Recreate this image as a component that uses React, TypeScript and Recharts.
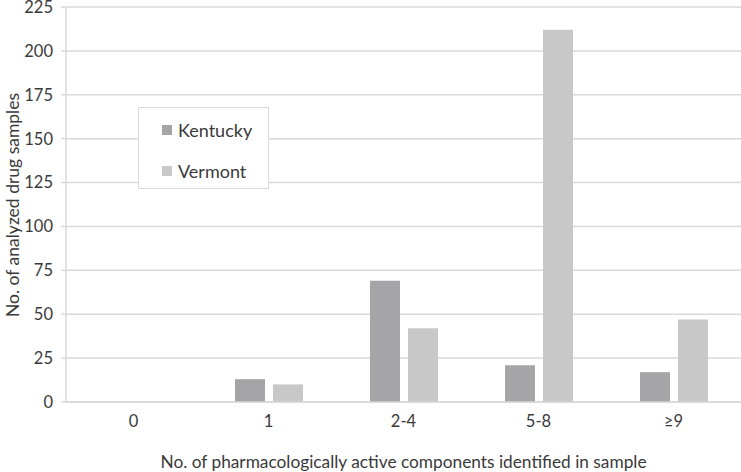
import { BarChart, Bar, XAxis, YAxis, CartesianGrid, Legend } from "recharts";

const categories = ["0", "1", "2-4", "5-8", "≥9"];
const kentucky = [0, 13, 69, 21, 17];
const vermont = [0, 10, 42, 212, 47];
const yTicks = [0, 25, 50, 75, 100, 125, 150, 175, 200, 225];

const SERIES = [
  { key: "kentucky", name: "Kentucky", color: "#a5a5a7" },
  { key: "vermont", name: "Vermont", color: "#c8c8c9" },
];

const FONT = "Lato, 'Open Sans', sans-serif";
const TEXT = "#3a3a3a";
const GRID = "#d9d9d9";

const data = categories.map((c, i) => ({
  cat: c,
  kentucky: kentucky[i],
  vermont: vermont[i],
}));

function LegendBox() {
  return (
    <div
      style={{
        width: 129,
        height: 80,
        border: `1px solid ${GRID}`,
        background: "#fff",
        fontFamily: FONT,
        fontSize: 18,
        color: TEXT,
        boxSizing: "content-box",
      }}
    >
      {SERIES.map((s, i) => (
        <div
          key={s.key}
          style={{
            position: "absolute",
            left: 24,
            top: i === 0 ? 12 : 53,
            display: "flex",
            alignItems: "center",
            gap: 6,
            lineHeight: "22px",
          }}
        >
          <span style={{ width: 10, height: 10, background: s.color, display: "inline-block" }} />
          <span>{s.name}</span>
        </div>
      ))}
    </div>
  );
}

function YLabel() {
  return (
    <text
      x={12}
      y={205}
      transform="rotate(-90, 12, 205)"
      textAnchor="middle"
      dominantBaseline="central"
      fontFamily={FONT}
      fontSize={17.5}
      fill={TEXT}
    >
      No. of analyzed drug  samples
    </text>
  );
}

export default function App() {
  return (
    <div style={{ position: "absolute", left: 0, top: 0, width: 741, height: 472, background: "#fff" }}>
      <BarChart
        width={741}
        height={472}
        data={data}
        margin={{ top: 7, right: 0, bottom: 0, left: 0 }}
        barSize={30}
        barGap={8}
      >
        <CartesianGrid vertical={false} stroke={GRID} strokeWidth={1.5} />
        <XAxis
          dataKey="cat"
          height={70}
          axisLine={{ stroke: GRID, strokeWidth: 1.5 }}
          tickLine={false}
          tickSize={0}
          tickMargin={13}
          tick={{ fill: TEXT, fontSize: 16.5, fontFamily: FONT }}
          label={{
            value: "No. of pharmacologically active components identified in sample",
            position: "insideBottom",
            offset: 4,
            fill: TEXT,
            fontSize: 17.3,
            fontFamily: FONT,
          }}
        />
        <YAxis
          width={66}
          domain={[0, 225]}
          ticks={yTicks}
          interval={0}
          axisLine={{ stroke: GRID, strokeWidth: 1.5 }}
          tickLine={{ stroke: GRID, strokeWidth: 1.5 }}
          tickSize={5}
          tickMargin={8}
          tick={{ fill: TEXT, fontSize: 16.5, fontFamily: FONT }}
          label={<YLabel />}
        />
        <Legend
          layout="vertical"
          align="center"
          verticalAlign="middle"
          content={<LegendBox />}
          wrapperStyle={{ position: "absolute", left: 138, top: 107, width: 131, height: 82 }}
        />
        {SERIES.map((s) => (
          <Bar key={s.key} dataKey={s.key} name={s.name} fill={s.color} isAnimationActive={false} />
        ))}
      </BarChart>
    </div>
  );
}
